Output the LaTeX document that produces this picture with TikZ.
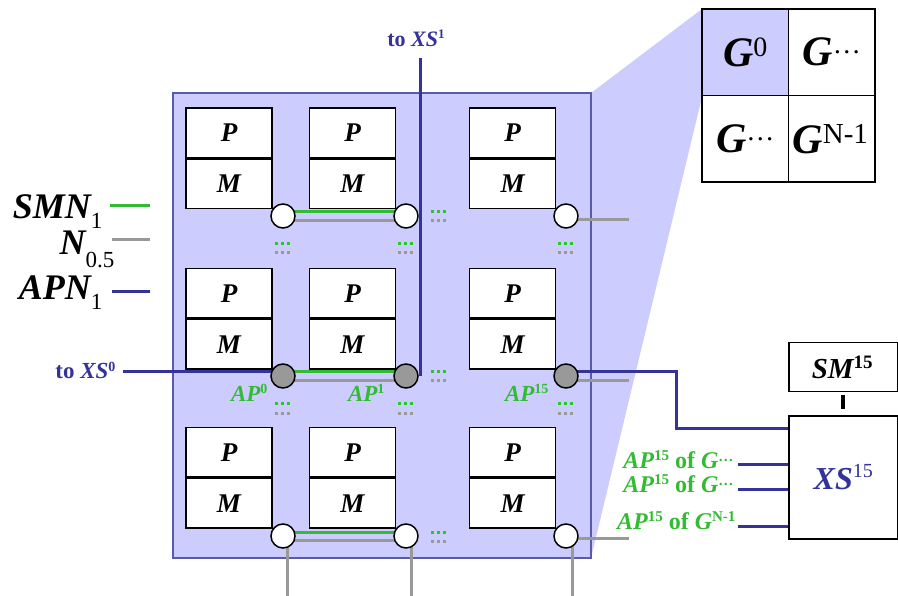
\documentclass[tikz,border=0pt]{standalone}
\usepackage{fontspec}
\setmainfont{Liberation Serif}
\usetikzlibrary{calc}

\definecolor{lav}{HTML}{CCCCFF}
\definecolor{frame}{HTML}{5A5AAA}
\definecolor{navy}{HTML}{333399}
\definecolor{grn}{HTML}{33BB33}
\definecolor{gry}{HTML}{999999}
\definecolor{dotgrn}{HTML}{22CC22}

% raised (or lowered) small text: amount, size, text
\newcommand\sx[3]{\raisebox{#1}{\fontsize{#2}{#2}\selectfont #3}}
\newcommand\fs[1]{\fontsize{#1}{#1}\selectfont}

\pgfdeclarelayer{back}
\pgfdeclarelayer{wires}
\pgfsetlayers{back,wires,main}

\tikzset{
  half/.style={draw=black, line width=1.5pt, fill=white, minimum width=86pt,
    minimum height=49.5pt, inner sep=0pt, font=\fs{27}\bfseries\itshape},
  port/.style={circle, draw=black, line width=1.5pt, fill=white,
    minimum size=24pt, inner sep=0pt},
  apport/.style={port, fill=gry},
  cell/.style={draw=black, line width=1.5pt, minimum size=86.5pt, inner sep=0pt},
  wire/.style={line width=3pt},
  unit/.style={draw=black, line width=1.5pt, fill=white, inner sep=0pt,
    anchor=north west, minimum width=109pt},
  tridots/.pic={
    \foreach \i in {-6,0,6}{
      \fill[dotgrn] (\i-1.5,-1.5) rectangle ++(3,3);
      \fill[gry] (\i-1.5,7.5) rectangle ++(3,3);
    }
  }
}

\begin{document}
\begin{tikzpicture}[x=1pt,y=-1pt]
\useasboundingbox (0,0) rectangle (898,596);

% group area and its zoom wedge
\begin{pgfonlayer}{back}
  \fill[lav] (591,93) -- (702,9) -- (702,97) -- (591,558) -- cycle;
  \draw[frame, fill=lav, line width=1.5pt] (173,93) rectangle (591,558);
\end{pgfonlayer}

% processor / memory tiles
\foreach \c/\x in {1/229,2/352.5,3/512.5}
  \foreach \r/\y in {1/108,2/268.5,3/427.5}{
    \node[half] (p\r\c) at (\x,\y+24.75) {P};
    \node[half, anchor=north] (m\r\c) at (p\r\c.south) {M};
  }

% router ports
\foreach \c/\x in {1/283,2/406,3/566}{
  \node[port]   (c1\c) at (\x,216) {};
  \node[apport] (c2\c) at (\x,376) {};
  \node[port]   (c3\c) at (\x,536) {};
}

% continuation dots
\foreach \x in {282,405,565}{
  \pic at (\x,244) {tridots};
  \pic at (\x,404) {tridots};
}
\foreach \y in {212,372,532}
  \pic at (438,\y) {tridots};

% group grid
\node[cell, fill=lav] (g00) at (745.25,52.25) {\fs{42}\bfseries\itshape G\sx{10pt}{28pt}{\normalfont 0}};
\node[cell] (g01) at (831.75,52.25) {\fs{42}\bfseries\itshape G\sx{12pt}{28pt}{\normalfont …}};
\node[cell] (g10) at (745.25,138.75) {\fs{42}\bfseries\itshape G\sx{12pt}{28pt}{\normalfont …}};
\node[cell] (g11) at (831.75,138.75) {\hspace*{-3pt}\fs{42}\bfseries\itshape G\sx{10pt}{29pt}{\normalfont N-1}};

% switch and its memory
\node[unit, minimum height=49pt] (sm) at (788,342)
  {\hspace*{-2pt}\fs{29}\bfseries\itshape SM\sx{10pt}{19pt}{\upshape 15}};
\node[unit, minimum height=123pt, text=navy] (xs) at (788,415)
  {\fs{32}\bfseries\itshape XS\sx{12pt}{20pt}{\mdseries\upshape 15}};
\draw[line width=4pt] ([yshift=-3pt]sm.south) -- ([yshift=6pt]xs.north);

% legend
\node[anchor=base east, font=\fs{36}] (lsmn) at (106,219)
  {\bfseries\itshape SMN\sx{-10pt}{23pt}{\normalfont 1}};
\node[anchor=base east, font=\fs{36}] (lnh) at (118,255)
  {\bfseries\itshape N\sx{-13pt}{23pt}{\normalfont 0.5}};
\node[anchor=base east, font=\fs{36}] (lapn) at (106,300)
  {\bfseries\itshape APN\sx{-10pt}{23pt}{\normalfont 1}};
\coordinate (k1) at (110,206);
\coordinate (k2) at (112,240);
\coordinate (k3) at (112,292);

% access point labels
\node[anchor=base east, text=grn, font=\fs{23}] (ap0) at (271,402)
  {\bfseries\itshape AP\sx{8pt}{14pt}{\upshape 0}};
\node[anchor=base east, text=grn, font=\fs{23}] (ap1) at (388,402)
  {\bfseries\itshape AP\sx{8pt}{14pt}{\upshape 1}};
\node[anchor=base east, text=grn, font=\fs{23}] (ap15) at (552,402)
  {\bfseries\itshape AP\sx{8pt}{14pt}{\upshape 15}};

% off-group links
\coordinate (x0end) at (123,372);
\coordinate (x1end) at (420,58);
\node[anchor=base east, text=navy, font=\fs{23}] (tx0) at (119,379)
  {\bfseries to \itshape XS\sx{8pt}{14pt}{\upshape 0}};
\node[anchor=base, text=navy, font=\fs{22}] (tx1) at (416,47)
  {\bfseries to \itshape XS\sx{8pt}{13pt}{\upshape 1}};

\coordinate (apa) at (738,464);
\coordinate (apb) at (738,489);
\coordinate (apc) at (738,526);
\node[anchor=base east, text=grn, font=\fs{24}] (la) at (737,468)
  {\bfseries\itshape AP\sx{8pt}{15pt}{\upshape 15} \upshape of \itshape G\sx{7pt}{15pt}{\upshape …}};
\node[anchor=base east, text=grn, font=\fs{24}] (lb) at (737,492)
  {\bfseries\itshape AP\sx{8pt}{15pt}{\upshape 15} \upshape of \itshape G\sx{7pt}{15pt}{\upshape …}};
\node[anchor=base east, text=grn, font=\fs{24}] (lc) at (739,529)
  {\bfseries\itshape AP\sx{8pt}{15pt}{\upshape 15} \upshape of \itshape G\sx{8pt}{15pt}{\upshape N-1}};

\begin{pgfonlayer}{wires}
  % legend samples
  \draw[wire,grn] (k1) -- ++(40,0);
  \draw[wire,gry] (k2) -- ++(38,0);
  \draw[wire,navy] (k3) -- ++(38,0);
  % rings inside each row
  \foreach \r/\gs in {1/-5,2/-5,3/-4}{
    \draw[wire,grn] ([yshift=4pt]c\r1.center) -- ([yshift=4pt]c\r2.center);
    \draw[wire,gry] ([yshift=\gs pt]c\r1.center) -- ([yshift=\gs pt]c\r2.center);
  }
  \draw[wire,gry] ([yshift=-4pt]c13.center) -- ++(63,0);
  \draw[wire,gry] ([yshift=-5pt]c23.center) -- ++(63,0);
  \draw[wire,gry] ([yshift=-2pt]c33.center) -- ++(63,0);
  \draw[wire,gry] ([xshift=4pt]c31.center) -- ++(0,62);
  \draw[wire,gry] ([xshift=5pt]c32.center) -- ++(0,62);
  \draw[wire,gry] ([xshift=6pt]c33.center) -- ++(0,62);
  % links to the switches
  \draw[wire,navy] (x0end) -- ([yshift=4pt]c21.center);
  \draw[wire,navy] (x1end) -- (x1end |- c22.center);
  \draw[wire,navy] ([yshift=4pt]c23.center) -- ++(110,0) |- ([yshift=-13pt]xs.north west);
  \draw[wire,navy] (apa) -- (apa -| xs.west);
  \draw[wire,navy] (apb) -- (apb -| xs.west);
  \draw[wire,navy] (apc) -- (apc -| xs.west);
\end{pgfonlayer}
\end{tikzpicture}
\end{document}
